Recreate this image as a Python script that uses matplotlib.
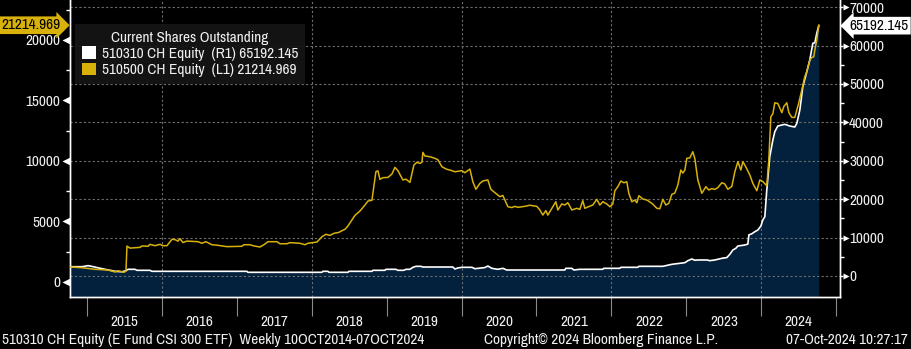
import matplotlib
matplotlib.use("Agg")
import matplotlib.pyplot as plt
import matplotlib.transforms as mtransforms
from matplotlib.patches import Patch
from matplotlib.ticker import FixedLocator, NullFormatter

plt.rcParams['font.family'] = ['Archivo Narrow', 'DejaVu Sans']

# 510500 CH Equity, shares outstanding (left axis), weekly, year as decimal
yellow_t = [2014.788, 2014.935, 2015.108, 2015.282, 2015.375, 2015.415, 2015.495, 2015.522,
            2015.535, 2015.575, 2015.709, 2015.736, 2015.816, 2015.842, 2015.909, 2015.976,
            2016.016, 2016.069, 2016.136, 2016.176, 2016.216, 2016.242, 2016.282, 2016.336,
            2016.483, 2016.536, 2016.589, 2016.669, 2016.749, 2016.869, 2017.069, 2017.096,
            2017.176, 2017.230, 2017.309, 2017.363, 2017.416, 2017.536, 2017.576, 2017.669,
            2017.709, 2017.843, 2017.910, 2017.950, 2018.070, 2018.137, 2018.190, 2018.243,
            2018.297, 2018.364, 2018.404, 2018.444, 2018.484, 2018.537, 2018.577, 2018.644,
            2018.711, 2018.751, 2018.804, 2018.817, 2018.857, 2018.884, 2018.911, 2018.951,
            2019.017, 2019.071, 2019.111, 2019.151, 2019.217, 2019.257, 2019.311, 2019.364,
            2019.404, 2019.444, 2019.471, 2019.484, 2019.511, 2019.577, 2019.644, 2019.684,
            2019.738, 2019.804, 2019.844, 2019.911, 2020.004, 2020.044, 2020.111, 2020.151,
            2020.191, 2020.245, 2020.285, 2020.351, 2020.391, 2020.445, 2020.511, 2020.551,
            2020.578, 2020.618, 2020.671, 2020.711, 2020.751, 2020.844, 2020.911, 2021.004,
            2021.045, 2021.085, 2021.125, 2021.151, 2021.205, 2021.258, 2021.285, 2021.338,
            2021.378, 2021.418, 2021.472, 2021.538, 2021.578, 2021.618, 2021.645, 2021.685,
            2021.751, 2021.805, 2021.845, 2021.885, 2021.938, 2021.979, 2022.019, 2022.045,
            2022.085, 2022.125, 2022.165, 2022.205, 2022.232, 2022.272, 2022.312, 2022.339,
            2022.366, 2022.419, 2022.473, 2022.539, 2022.606, 2022.646, 2022.686, 2022.726,
            2022.766, 2022.806, 2022.846, 2022.886, 2022.926, 2022.953, 2022.980, 2023.006,
            2023.046, 2023.086, 2023.113, 2023.153, 2023.206, 2023.260, 2023.300, 2023.340,
            2023.380, 2023.420, 2023.473, 2023.513, 2023.553, 2023.607, 2023.647, 2023.687,
            2023.727, 2023.754, 2023.794, 2023.847, 2023.887, 2023.940, 2023.980, 2024.020,
            2024.073, 2024.100, 2024.127, 2024.154, 2024.180, 2024.220, 2024.274, 2024.300,
            2024.340, 2024.367, 2024.407, 2024.447, 2024.474, 2024.500, 2024.540, 2024.580,
            2024.607, 2024.647, 2024.674, 2024.700, 2024.714, 2024.740, 2024.767]
yellow_v = [1240, 1180, 1050, 990, 830, 930, 800, 900,
            2970, 2800, 2860, 2980, 2950, 3110, 3000, 3110,
            3000, 3000, 3530, 3500, 3380, 3580, 3260, 3380,
            3330, 3200, 3330, 3080, 3030, 2920, 2950, 3080,
            3080, 2980, 2890, 3080, 3330, 3330, 3160, 3160,
            3250, 3200, 3080, 3200, 3300, 3740, 3940, 3850,
            4020, 4100, 4240, 4350, 4630, 5120, 5500, 5860,
            6360, 6690, 6750, 7330, 9110, 9190, 8480, 8620,
            8640, 8920, 9470, 9200, 8430, 8500, 8230, 9660,
            9890, 9800, 9890, 10710, 10410, 10350, 10220, 10100,
            9520, 9310, 9250, 9110, 9200, 9030, 9330, 8280,
            7660, 8150, 8350, 8430, 7660, 7380, 7050, 7150,
            6770, 6220, 6150, 6250, 6170, 6250, 6340, 6250,
            5950, 5530, 5900, 5530, 6090, 6630, 5950, 6450,
            6360, 6550, 5950, 6090, 6000, 6720, 6090, 6200,
            6360, 6830, 6360, 6630, 6450, 6220, 6450, 7540,
            7870, 8340, 8200, 8280, 7330, 6630, 6770, 6550,
            7130, 6860, 6770, 6500, 6090, 6050, 6830, 6360,
            6500, 7240, 7350, 8010, 9250, 9000, 9250, 10220,
            10250, 10760, 10200, 8430, 7330, 7870, 7600, 7720,
            7650, 7800, 8200, 8100, 7660, 7900, 9110, 9940,
            9250, 9940, 9500, 8840, 8150, 7540, 8430, 8300,
            7950, 10080, 13650, 13900, 14810, 14750, 13990, 14500,
            14810, 14000, 13600, 13600, 14200, 14810, 15860, 16960,
            17370, 18340, 18550, 18600, 19160, 19990, 21214.969]

# 510310 CH Equity, shares outstanding (right axis)
white_t = [2014.788, 2014.935, 2015.015, 2015.068, 2015.135, 2015.242, 2015.335, 2015.375,
           2015.469, 2015.522, 2015.549, 2015.642, 2015.669, 2015.842, 2015.869, 2017.136,
           2017.149, 2018.137, 2018.150, 2018.217, 2018.230, 2018.484, 2018.497, 2018.804,
           2018.817, 2018.977, 2018.991, 2019.124, 2019.151, 2019.231, 2019.257, 2019.311,
           2019.351, 2019.391, 2019.457, 2019.484, 2019.884, 2019.911, 2019.951, 2020.004,
           2020.138, 2020.178, 2020.311, 2020.351, 2020.404, 2020.484, 2020.551, 2020.604,
           2021.378, 2021.391, 2021.472, 2021.498, 2021.578, 2021.885, 2021.898, 2022.112,
           2022.125, 2022.352, 2022.365, 2022.686, 2022.806, 2022.980, 2023.020, 2023.073,
           2023.113, 2023.153, 2023.273, 2023.313, 2023.380, 2023.473, 2023.540, 2023.580,
           2023.620, 2023.660, 2023.687, 2023.780, 2023.820, 2023.834, 2023.874, 2023.914,
           2023.954, 2023.994, 2024.020, 2024.047, 2024.073, 2024.113, 2024.154, 2024.180,
           2024.220, 2024.314, 2024.380, 2024.447, 2024.474, 2024.514, 2024.554, 2024.607,
           2024.647, 2024.687, 2024.714, 2024.740, 2024.767]
white_v = [2420, 2420, 2700, 2500, 2200, 1740, 1400, 1220,
           1100, 1400, 1740, 1740, 1480, 1480, 1220, 1220,
           960, 960, 1220, 1220, 960, 960, 1220, 1220,
           1480, 1480, 1740, 1740, 1480, 1480, 1740, 1740,
           2260, 2520, 2520, 2340, 2340, 1820, 2100, 2260,
           2260, 1900, 2200, 2600, 2000, 1740, 2000, 1560,
           1560, 2000, 2000, 1560, 1740, 1740, 2000, 2000,
           2260, 2260, 2520, 2520, 3040, 3470, 3990, 4430,
           4100, 4170, 4170, 4000, 4170, 4600, 4800, 5650,
           6770, 7210, 7810, 8070, 8300, 10700, 11000, 11540,
           11980, 13000, 14580, 15440, 22390, 31070, 35410, 37580,
           39060, 39500, 39060, 38800, 39760, 43230, 49300, 53200,
           56250, 60600, 60750, 63200, 65192.145]

years = list(range(2015, 2025))
left_ticks = [0, 5000, 10000, 15000, 20000]
right_ticks = [0, 10000, 20000, 30000, 40000, 50000, 60000, 70000]

yellow = '#d8b20a'
navy = '#03203c'
grid_c = '#6e6e6e'
txt = '#f0f0f0'
fs = 11

fig = plt.figure(figsize=(9.11, 3.49), dpi=100, facecolor='black')
# base axes carries the white series and the right scale, twin carries yellow on the left
ax = fig.add_axes([70 / 911, 1 - 297 / 349, 770 / 911, 297 / 349])
ax.set_facecolor('black')
ax2 = ax.twinx()

ax.fill_between(white_t, white_v, -10000, color=navy, lw=0, zorder=1)
ax.plot(white_t, white_v, color='white', lw=1.2, zorder=3)
ax2.plot(yellow_t, yellow_v, color=yellow, lw=1.1, zorder=3)

ax.set_xlim(2014.775, 2025.05)
ax.set_ylim(-5470, 71875)
ax2.set_ylim(-1240, 23300)

# right axis (white series)
ax.yaxis.tick_right()
ax.yaxis.set_major_locator(FixedLocator(right_ticks))
ax.yaxis.set_minor_locator(FixedLocator([t + 5000 for t in right_ticks[:-1]]))
ax.tick_params(axis='y', which='major', colors='white', labelcolor=txt, length=2,
               width=1, pad=4.5, labelsize=fs)
ax.tick_params(axis='y', which='minor', colors='white', length=3, width=1)
ax.grid(axis='y', color=grid_c, ls=(0, (2, 2)), lw=0.8)
for yr in years[1::2]:
    ax.axvline(yr, color=grid_c, ls=(0, (2, 2)), lw=0.8, zorder=1.5)

# left axis (yellow series)
ax2.yaxis.tick_left()
ax2.yaxis.set_major_locator(FixedLocator(left_ticks))
ax2.yaxis.set_minor_locator(FixedLocator([t + 2500 for t in left_ticks]))
ax2.tick_params(axis='y', which='major', colors='white', labelcolor=txt, length=0,
                pad=7.2, labelsize=fs)
ax2.tick_params(axis='y', which='minor', colors='white', length=3, width=1)

# pointer triangles on the major ticks
lt = ax2.get_yaxis_transform() + mtransforms.ScaledTranslation(-2.6 / 72, 0, fig.dpi_scale_trans)
ax2.plot([0] * len(left_ticks), left_ticks, ls='none', marker='<', ms=5.5, color='white',
         mec='none', transform=lt, clip_on=False)
rt = ax.get_yaxis_transform() + mtransforms.ScaledTranslation(4.0 / 72, 0, fig.dpi_scale_trans)
ax.plot([1] * len(right_ticks), right_ticks, ls='none', marker='>', ms=5, color='white',
        mec='none', transform=rt, clip_on=False)

# x axis: year boundaries as long ticks, year names centred between them
ax.xaxis.set_major_locator(FixedLocator(years + [2025]))
ax.xaxis.set_major_formatter(NullFormatter())
ax.xaxis.set_minor_locator(FixedLocator([y + 0.5 for y in years]))
ax.set_xticklabels([str(y) for y in years], minor=True)
ax.tick_params(axis='x', which='major', colors='#8a8a8a', length=14, width=0.8)
ax.tick_params(axis='x', which='minor', length=0, pad=13, labelcolor=txt, labelsize=fs)
ax2.tick_params(axis='x', which='both', length=0)

for a in (ax, ax2):
    a.spines['top'].set_visible(False)
    for s in ('left', 'right', 'bottom'):
        a.spines[s].set_color('white')
        a.spines[s].set_linewidth(1)

# last-value tags
ax2.annotate(f'{yellow_v[-1]:.3f}', xy=(0, yellow_v[-1]), xycoords=ax2.get_yaxis_transform(),
             xytext=(-7, 0), textcoords='offset points', ha='right', va='center',
             fontsize=fs, color='black', annotation_clip=False,
             bbox=dict(boxstyle='rarrow,pad=0.12', fc=yellow, ec='none'))
ax.annotate(f'{white_v[-1]:.3f}', xy=(1, white_v[-1]), xycoords=ax.get_yaxis_transform(),
            xytext=(7, 0), textcoords='offset points', ha='left', va='center',
            fontsize=fs, color='black', annotation_clip=False,
            bbox=dict(boxstyle='larrow,pad=0.12', fc='white', ec='none'))

handles = [Patch(fc='white', ec='none'), Patch(fc=yellow, ec='none')]
labels = [f'510310 CH Equity  (R1) {white_v[-1]:.3f}',
          f'510500 CH Equity  (L1) {yellow_v[-1]:.3f}']
leg = ax2.legend(handles, labels, title='Current Shares Outstanding', loc='upper left',
                 bbox_to_anchor=(5 / 770, 1 - 24 / 297), borderaxespad=0, fontsize=fs,
                 title_fontsize=fs, handlelength=0.9, handleheight=0.9, handletextpad=0.4,
                 labelspacing=0.1, borderpad=0.45, fancybox=False, framealpha=0.92,
                 facecolor='#151515', edgecolor='none', labelcolor=txt)
leg.get_title().set_color(txt)

fig.text(0.002, 0.014, '510310 CH Equity (E Fund CSI 300 ETF)  Weekly 10OCT2014-07OCT2024',
         color=txt, fontsize=fs, ha='left', va='baseline')
fig.text(0.66, 0.014, 'Copyright\u00a9 2024 Bloomberg Finance L.P.',
         color=txt, fontsize=fs, ha='center', va='baseline')
fig.text(0.997, 0.014, '07-Oct-2024 10:27:17', color=txt, fontsize=fs,
         ha='right', va='baseline')

fig.savefig('out.png', dpi=100, facecolor='black')
